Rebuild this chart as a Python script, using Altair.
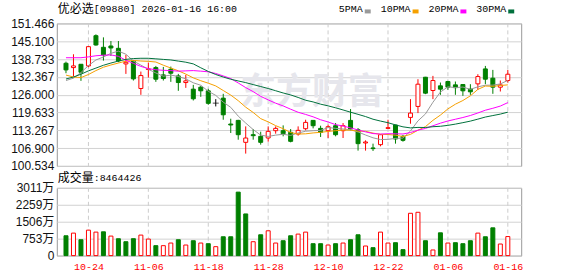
import altair as alt
import pandas as pd

# ---------------- data ----------------
dates = ["10-21", "10-22", "10-23", "10-24", "10-27", "10-28", "10-30", "10-31",
         "11-03", "11-04", "11-05", "11-06", "11-07", "11-10", "11-11", "11-12", "11-13", "11-14",
         "11-17", "11-18", "11-19", "11-20", "11-21", "11-24", "11-25", "11-26", "11-27", "11-28",
         "12-01", "12-02", "12-03", "12-04", "12-05", "12-08", "12-09", "12-10", "12-11", "12-12",
         "12-15", "12-16", "12-17", "12-18", "12-19", "12-22", "12-23", "12-24", "12-29", "12-30", "12-31",
         "01-02", "01-05", "01-06", "01-07", "01-08", "01-09", "01-12", "01-13", "01-14", "01-15", "01-16"]

open_ = [137.22, 135.67, 136.86, 136.27, 147.07, 142.92, 143.39, 142.56, 136.98, 138.05,
         128.20, 135.00, 135.68, 133.06, 135.08, 132.70, 130.33, 127.96, 128.67, 127.37,
         122.97, 124.75, 115.50, 116.80, 108.96, 111.69, 111.10, 110.51, 113.12, 113.12,
         112.52, 111.93, 113.83, 116.80, 113.95, 113.12, 114.90, 113.12, 116.80, 113.47,
         108.73, 106.95, 108.13, 113.95, 115.14, 111.10, 117.87, 121.79, 132.23, 127.48,
         129.15, 130.69, 129.50, 129.62, 127.96, 129.86, 135.20, 131.88, 128.67, 131.05]
high = [137.80, 140.43, 136.90, 143.30, 147.55, 146.48, 145.17, 145.17, 140.19, 138.40,
        134.25, 137.46, 136.27, 135.91, 136.03, 133.42, 133.06, 129.50, 129.15, 128.08,
        124.40, 126.30, 117.40, 117.00, 114.66, 113.71, 112.76, 114.66, 114.66, 115.02,
        113.71, 114.66, 117.04, 116.90, 114.90, 115.26, 115.85, 115.85, 120.84, 114.07,
        109.68, 108.49, 111.93, 117.04, 115.26, 111.57, 124.40, 131.52, 132.35, 132.71,
        130.33, 130.93, 130.69, 129.74, 129.74, 133.30, 136.27, 134.85, 131.05, 134.85]
low = [133.66, 132.47, 130.93, 135.80, 143.50, 138.17, 139.83, 137.58, 133.42, 131.05,
       125.94, 132.10, 130.57, 131.05, 130.57, 127.37, 128.43, 123.92, 125.23, 122.38,
       121.79, 117.04, 112.30, 109.90, 104.93, 109.91, 108.13, 109.20, 112.05, 111.10,
       108.96, 111.34, 113.24, 113.95, 110.87, 110.51, 111.10, 110.51, 113.24, 106.00,
       106.00, 105.88, 107.54, 113.71, 108.49, 109.20, 115.61, 119.41, 126.18, 124.40,
       125.94, 127.72, 125.94, 125.58, 125.94, 127.72, 129.74, 126.30, 127.13, 130.33]
close = [134.85, 136.27, 134.01, 143.15, 143.75, 140.19, 142.68, 138.05, 137.58, 131.64,
         132.83, 135.20, 131.52, 131.76, 133.66, 130.33, 130.93, 124.52, 127.37, 122.90,
         122.97, 118.80, 115.15, 111.69, 110.50, 111.34, 108.96, 112.88, 113.95, 112.05,
         109.32, 113.24, 116.09, 114.90, 112.52, 114.54, 111.69, 114.90, 113.71, 108.49,
         109.08, 106.71, 111.69, 114.19, 110.15, 109.68, 119.41, 129.74, 126.53, 131.05,
         127.96, 128.67, 128.50, 127.37, 127.01, 132.47, 131.52, 128.67, 129.50, 133.30]
volume = [881, 999, 705, 1131, 1043, 1057, 867, 749, 617, 751,
          911, 734, 441, 441, 558, 705, 470, 661, 558, 529,
          397, 837, 837, 2820, 1851, 617, 925, 1102, 558, 661,
          881, 955, 1043, 529, 529, 470, 529, 558, 705, 925,
          426, 352, 1043, 558, 573, 264, 1880, 1924, 661, 250,
          1013, 558, 573, 529, 661, 999, 837, 1234, 514, 846]

ma5 = [131.05, 131.90, 133.90, 136.40, 138.40, 139.47, 140.76, 141.56, 140.45, 138.03,
       136.56, 135.06, 133.75, 132.59, 132.99, 132.49, 131.64, 130.24, 129.36, 127.21,
       125.74, 123.32, 121.46, 118.33, 115.85, 113.52, 111.55, 111.07, 111.53, 111.84,
       111.43, 112.29, 112.93, 113.12, 113.21, 114.26, 113.95, 113.71, 113.47, 112.67,
       111.57, 110.58, 109.94, 110.03, 110.36, 110.48, 113.02, 116.63, 119.10, 123.28,
       126.94, 128.79, 128.54, 128.71, 127.90, 128.80, 129.37, 129.41, 129.83, 131.09]
ma10 = [133.00, 132.30, 132.10, 133.20, 134.60, 135.80, 136.60, 137.30, 138.00, 138.22,
        138.02, 137.91, 137.66, 136.52, 135.51, 134.53, 133.35, 132.00, 130.98, 130.10,
        129.12, 127.48, 125.85, 123.85, 121.53, 119.63, 117.43, 116.27, 114.93, 113.84,
        112.47, 111.92, 112.00, 112.32, 112.53, 112.85, 113.12, 113.32, 113.30, 112.94,
        112.92, 112.26, 111.82, 111.75, 111.52, 111.03, 111.80, 113.29, 114.57, 116.82,
        118.71, 120.91, 122.59, 123.91, 125.59, 127.87, 129.08, 128.98, 129.27, 129.50]
ma20 = [139.20, 139.20, 139.20, 139.50, 139.90, 140.10, 140.20, 139.70, 138.30, 137.20,
        136.10, 135.30, 134.90, 134.70, 134.60, 134.40, 134.50, 134.60, 134.40, 134.16,
        133.57, 132.69, 131.76, 130.18, 128.52, 127.08, 125.39, 124.13, 122.95, 121.97,
        120.80, 119.70, 118.93, 118.08, 117.03, 116.24, 115.28, 114.79, 114.11, 113.39,
        112.70, 112.09, 111.91, 112.04, 112.02, 111.94, 112.46, 113.30, 113.93, 114.88,
        115.81, 116.59, 117.21, 117.83, 118.55, 119.45, 120.44, 121.13, 121.92, 123.16]
ma30 = [131.60, 132.30, 133.30, 134.50, 135.50, 136.50, 137.30, 138.00, 138.60, 138.90,
        139.00, 139.00, 138.80, 138.60, 138.40, 138.00, 137.60, 137.00, 135.60, 134.30,
        133.20, 132.30, 131.50, 130.90, 130.30, 129.60, 128.90, 128.20, 127.40, 126.60,
        125.90, 125.00, 124.00, 123.40, 122.60, 122.00, 121.30, 120.53, 119.73, 118.96,
        118.17, 117.22, 116.56, 115.97, 115.19, 114.50, 114.12, 114.29, 114.26, 114.54,
        114.70, 115.03, 115.47, 115.99, 116.54, 117.25, 118.00, 118.53, 119.05, 119.75]

price_ticks = [100.534, 106.900, 113.267, 119.633, 126.000, 132.367, 138.733, 145.100, 151.466]
vol_ticks = [0, 753, 1506, 2259, 3011]
date_ticks = ["10-24", "11-06", "11-18", "11-28", "12-10", "12-22", "01-06", "01-16"]
ma_names = ["5PMA", "10PMA", "20PMA", "30PMA"]
ma_colors = ["#999999", "#f5a000", "#ff00ff", "#00703c"]
title_name = "优必选"
title_rest = "[09880] 2026-01-16 16:00"
vol_name = "成交量"
vol_rest = ":8464426"
watermark = "东方财富"

# ---------------- tables ----------------
n = len(dates)
df = pd.DataFrame({"i": list(range(n)), "date": dates, "open": open_, "high": high,
                   "low": low, "close": close, "vol": volume,
                   "ma5": ma5, "ma10": ma10, "ma20": ma20, "ma30": ma30})
df["dir"] = ["up" if c > o else ("down" if c < o else "flat") for o, c in zip(open_, close)]
df["vdir"] = ["down"] + ["up" if close[k] >= close[k - 1] else "down" for k in range(1, n)]
tick_df = pd.DataFrame({"i": [dates.index(d) for d in date_ticks]})
one = pd.DataFrame({"t": [""]})

RED, GREEN = "#ff0000", "#008000"
W, H1, H2 = 466, 143, 68
LEFT, TOP, RIGHT, BOTTOM = 56, 22, 56, 21
MONO = "Liberation Mono"
CJK = "Noto Sans CJK SC"
LAB = "Liberation Sans, Noto Sans CJK SC"

xs = alt.Scale(domain=[-0.56, 60.12], nice=False, zero=False)
ys = alt.Scale(domain=[100.534, 151.466], nice=False, zero=False)
vs = alt.Scale(domain=[0, 3011], nice=False, zero=False)

y_axis = alt.Axis(values=price_ticks, format=".3f", title=None, grid=True, gridColor="#d2d2d2",
                  ticks=False, domain=False, labelFont=LAB, labelFontSize=12, labelColor="#111111",
                  labelPadding=3)
X = alt.X("i:Q", scale=xs, axis=None)


def Y(field):
    return alt.Y(f"{field}:Q", scale=ys, axis=y_axis)


base = alt.Chart(df)

# invisible frame that fixes the outer bounds of the canvas
frame_top = alt.Chart(one).mark_rule(opacity=0, strokeWidth=0).encode(
    x=alt.value(-LEFT), x2=alt.value(W + RIGHT), y=alt.value(-TOP), y2=alt.value(-TOP))

vgrid = alt.Chart(tick_df).mark_rule(color="#cccccc", strokeDash=[4, 3]).encode(x=X)

wm = alt.Chart(pd.DataFrame({"t": [watermark]})).mark_text(
    font=CJK, fontSize=36, fontWeight="bold", color="#e6e6ec", align="center", baseline="middle"
).encode(x=alt.value(256), y=alt.value(70), text="t:N")

layers = [base.mark_point(opacity=0).encode(x=X, y=Y("close")), frame_top, vgrid, wm]
for d, col in [("up", RED), ("down", GREEN), ("flat", "#000000")]:
    sub = base.transform_filter(alt.datum.dir == d)
    layers.append(sub.mark_rule(color=col, strokeWidth=1).encode(x=X, y=Y("low"), y2="high:Q"))
    if d == "up":
        layers.append(sub.mark_bar(size=4, fill="#ffffff", stroke=col, strokeWidth=1)
                      .encode(x=X, y=Y("open"), y2="close:Q"))
    elif d == "down":
        layers.append(sub.mark_bar(size=4, fill=col, stroke=col, strokeWidth=1)
                      .encode(x=X, y=Y("open"), y2="close:Q"))
    else:
        layers.append(sub.mark_tick(orient="horizontal", size=6, thickness=1, color=col)
                      .encode(x=X, y=Y("close")))

for name, col, field in zip(ma_names, ma_colors, ["ma5", "ma10", "ma20", "ma30"]):
    layers.append(base.mark_line(color=col, strokeWidth=1).encode(x=X, y=Y(field)))

# header texts
txt = dict(baseline="middle", align="left")
layers.append(alt.Chart(pd.DataFrame({"t": [title_name]})).mark_text(
    font=CJK, fontSize=12, color="#000000", **txt).encode(x=alt.value(1), y=alt.value(-14), text="t:N"))
layers.append(alt.Chart(pd.DataFrame({"t": [title_rest]})).mark_text(
    font=MONO, fontSize=10, color="#000000", **txt).encode(x=alt.value(37), y=alt.value(-14), text="t:N"))

leg_x = 283
for name, col in zip(ma_names, ma_colors):
    layers.append(alt.Chart(pd.DataFrame({"t": [name]})).mark_text(
        font=MONO, fontSize=10, color="#000000", **txt).encode(x=alt.value(leg_x), y=alt.value(-14), text="t:N"))
    sq = leg_x + len(name) * 6 + 2
    layers.append(alt.Chart(pd.DataFrame({"t": [name]})).mark_rect(color=col).encode(
        x=alt.value(sq), x2=alt.value(sq + 6), y=alt.value(-14), y2=alt.value(-10)))
    leg_x = sq + 6 + 10

main = alt.layer(*layers).properties(width=W, height=H1)

# ---------------- volume panel ----------------
label_expr = "[" + ",".join(f"'{d}'" for d in dates) + "][datum.value]"
x_axis = alt.Axis(values=tick_df["i"].tolist(), labelExpr=label_expr, title=None, grid=False,
                  ticks=False, domain=False, labelFont=MONO, labelFontSize=10, labelColor=RED,
                  labelPadding=6)
vy_axis = alt.Axis(values=vol_ticks, labelExpr="datum.value == 0 ? '0' : datum.value + '万'",
                   title=None, grid=True, gridColor="#d2d2d2", ticks=False, domain=False,
                   labelFont=LAB, labelFontSize=12, labelColor="#111111", labelPadding=3)
VX = alt.X("i:Q", scale=xs, axis=x_axis)
VY = alt.Y("vol:Q", scale=vs, axis=vy_axis)

frame_bottom = alt.Chart(one).mark_rule(opacity=0, strokeWidth=0).encode(
    x=alt.value(-LEFT), x2=alt.value(W + RIGHT), y=alt.value(H2 + BOTTOM), y2=alt.value(H2 + BOTTOM))

vlayers = [
    base.mark_point(opacity=0).encode(x=VX, y=VY),
    frame_bottom,
    alt.Chart(tick_df).mark_rule(color="#cccccc", strokeDash=[4, 3]).encode(x=VX),
    base.transform_filter(alt.datum.vdir == "up").mark_bar(size=4, fill="#ffffff", stroke=RED, strokeWidth=1)
        .encode(x=VX, y=VY),
    base.transform_filter(alt.datum.vdir == "down").mark_bar(size=4, fill=GREEN, stroke=GREEN, strokeWidth=1)
        .encode(x=VX, y=VY),
    alt.Chart(pd.DataFrame({"t": [vol_name]})).mark_text(font=CJK, fontSize=12, color="#000000", **txt)
        .encode(x=alt.value(1), y=alt.value(-10), text="t:N"),
    alt.Chart(pd.DataFrame({"t": [vol_rest]})).mark_text(font=MONO, fontSize=10, color="#000000", **txt)
        .encode(x=alt.value(37), y=alt.value(-10), text="t:N"),
]
volc = alt.layer(*vlayers).properties(width=W, height=H2)

chart = alt.vconcat(main, volc, spacing=22, bounds="flush").properties(
    padding=0,
    background="#ffffff",
).configure_view(stroke="#999999", strokeWidth=1)

chart.save("out.html", embed_options={"renderer": "svg", "actions": False})
